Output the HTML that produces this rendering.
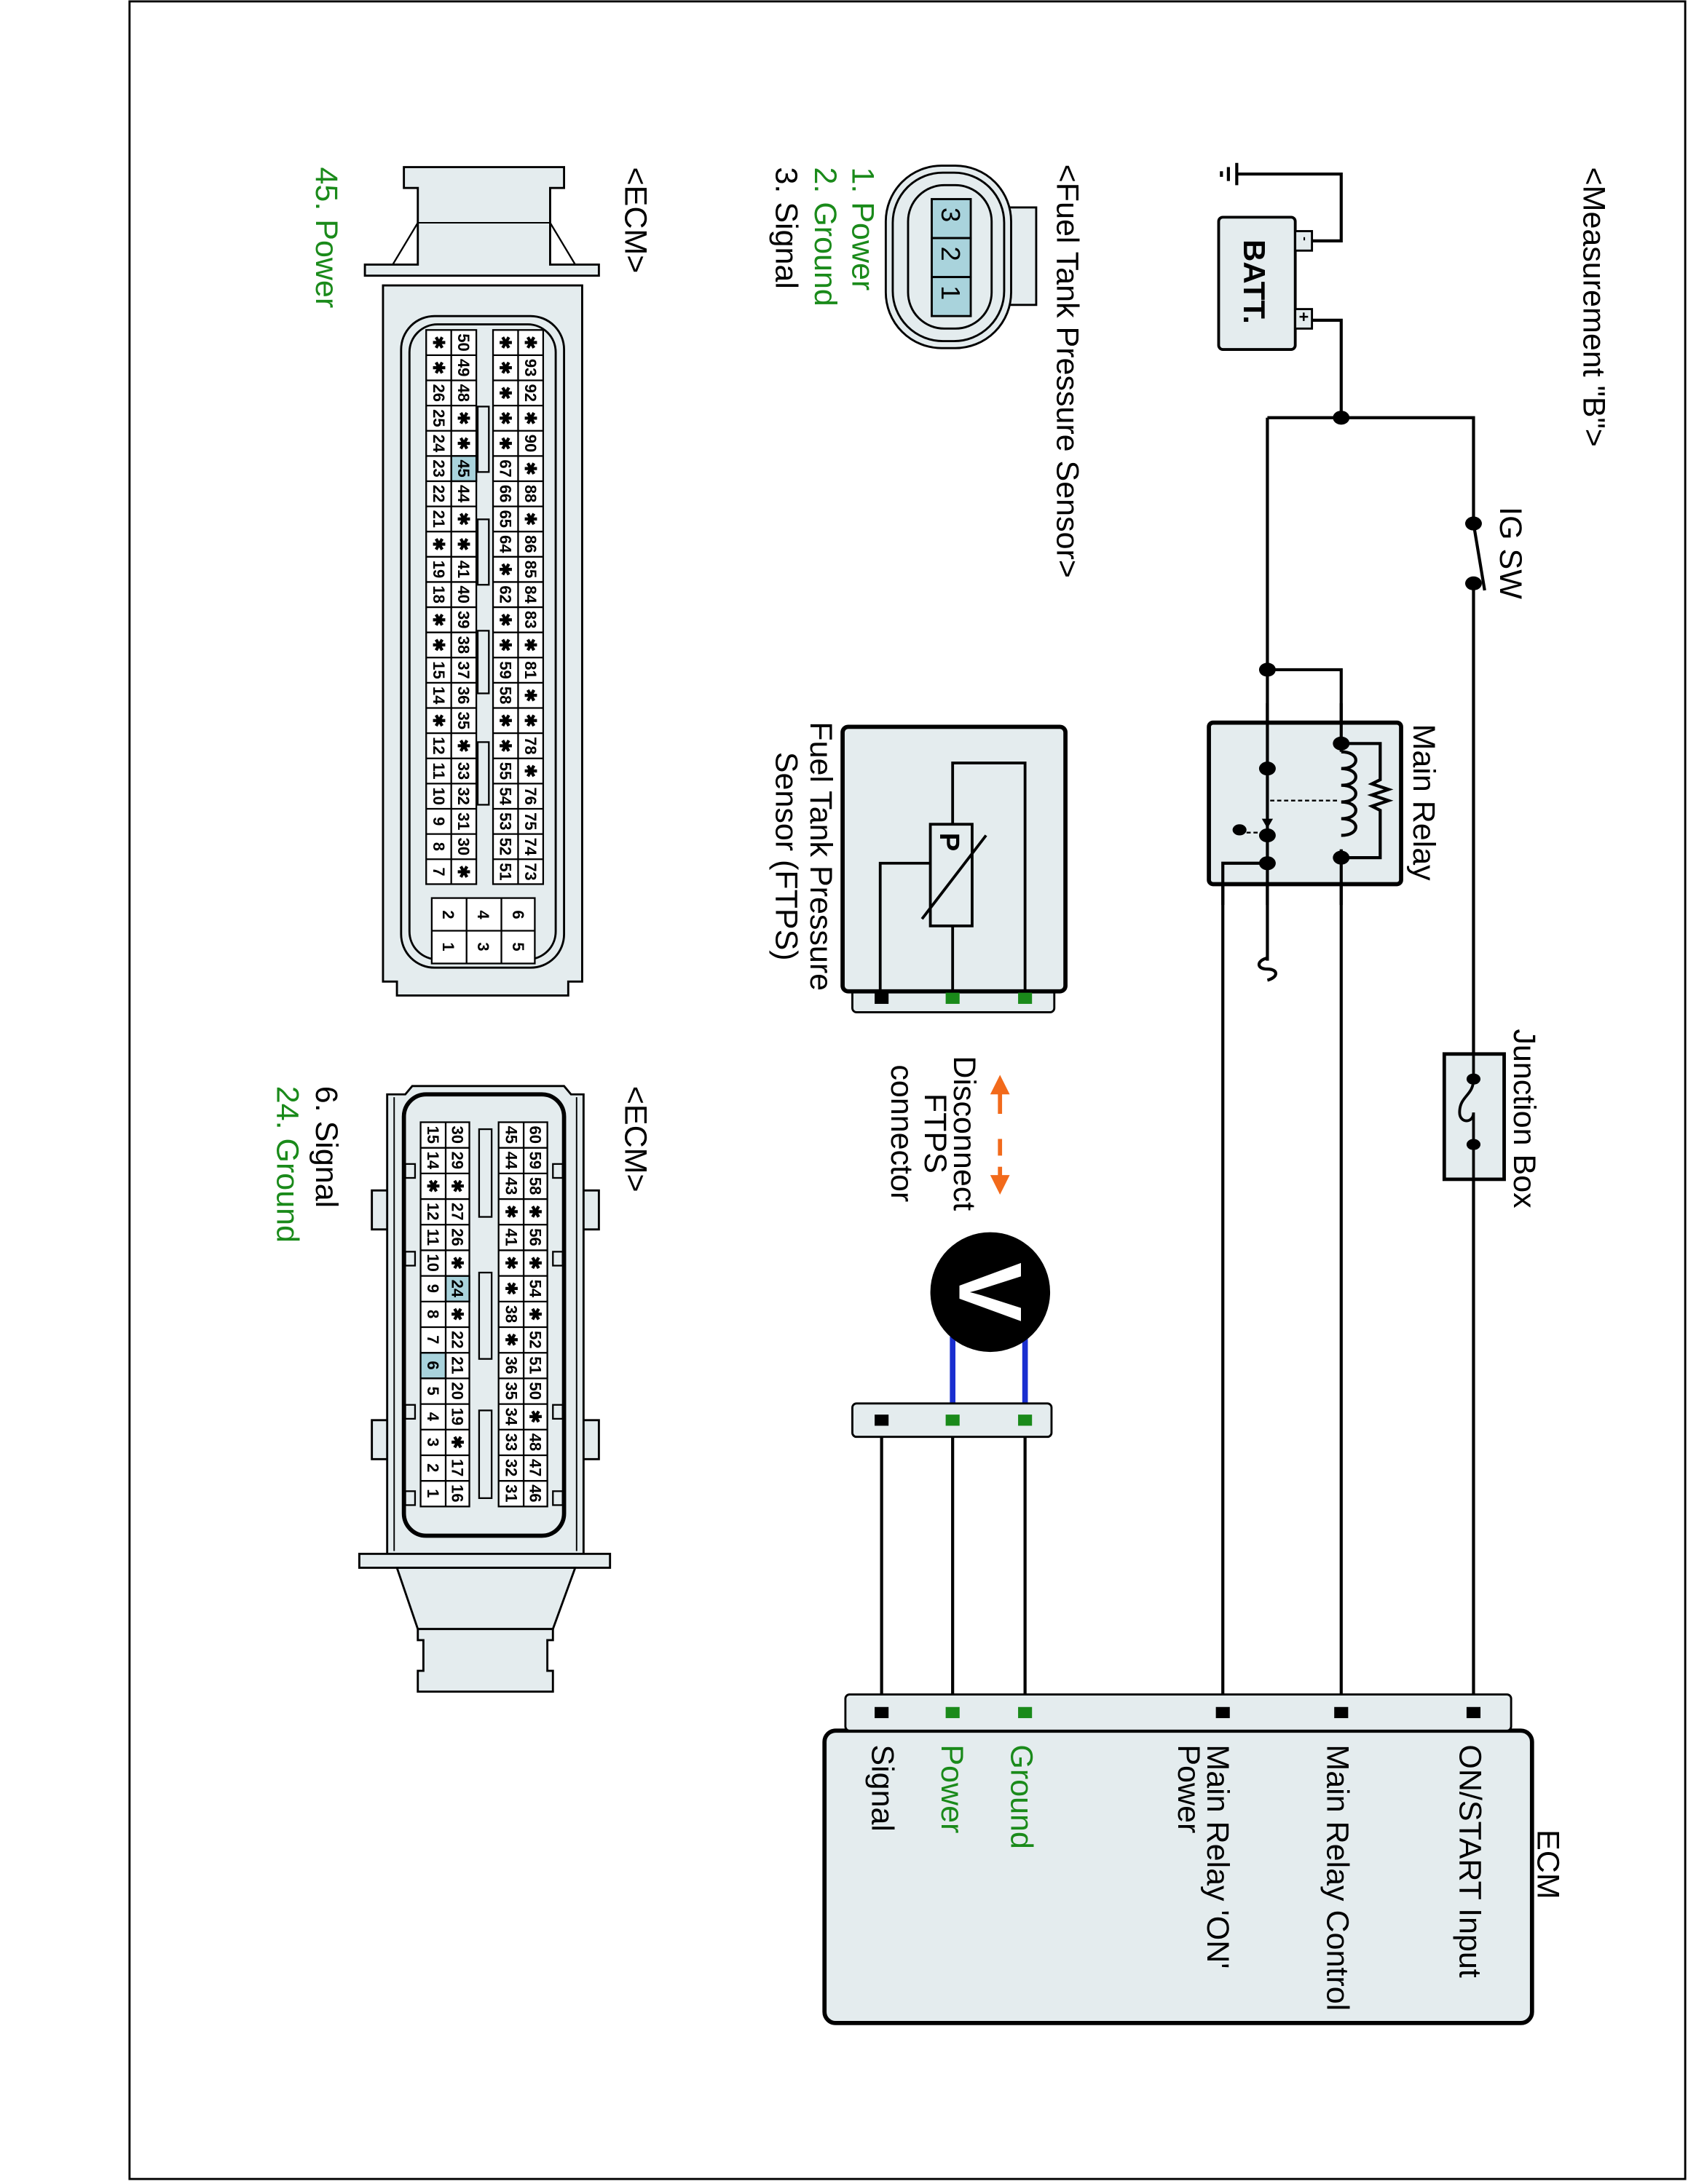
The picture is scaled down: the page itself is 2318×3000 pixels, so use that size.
<!DOCTYPE html>
<html><head><meta charset="utf-8"><style>
html,body{margin:0;padding:0;background:#fff}
svg{display:block}
text{font-family:"Liberation Sans",Arial,sans-serif}
</style></head><body>
<svg width="2318" height="3000" viewBox="0 0 1212 1568.6" preserveAspectRatio="none" xmlns="http://www.w3.org/2000/svg">
<rect x="0" y="0" width="1212" height="1568.6" fill="#fff"/>
<rect x="93" y="1" width="1117" height="1564" fill="none" stroke="#000" stroke-width="1.5"/>

<g fill="none" stroke="#000" stroke-width="2.2">
<polyline points="888,125 963,125 963,173 942,173"/>
<line x1="888" y1="117" x2="888" y2="133"/>
<line x1="882" y1="120" x2="882" y2="130"/>
<line x1="877" y1="123" x2="877" y2="127"/>
<polyline points="942,230 963,230 963,300"/>
<polyline points="910,300 1058,300 1058,376"/>
<line x1="1058" y1="419" x2="1058" y2="1226"/>
<line x1="1058" y1="376" x2="1066" y2="424"/>
<line x1="910" y1="300" x2="910" y2="690"/>
<polyline points="910,481 963,481 963,534"/>
<line x1="963" y1="616" x2="963" y2="1226"/>
<polyline points="910,620 878,620 878,1226"/>
<path d="M910,688 c-8,2 -8,8 0,8 c8,0 8,6 0,8" />
<line x1="633" y1="1020" x2="633" y2="1226"/>
<line x1="684" y1="1020" x2="684" y2="1226"/>
<line x1="736" y1="1020" x2="736" y2="1226"/>
</g>

<rect x="875" y="156" width="55" height="95" rx="3" fill="#e4ecee" stroke="#000" stroke-width="2"/>
<rect x="930" y="166" width="12" height="14" fill="#e4ecee" stroke="#000" stroke-width="1.5"/>
<rect x="930" y="222" width="12" height="14" fill="#e4ecee" stroke="#000" stroke-width="1.5"/>
<text transform="translate(934,170) rotate(90)" font-size="9" font-weight="bold">-</text>
<text transform="translate(932,224) rotate(90)" font-size="12" font-weight="bold">+</text>
<text transform="translate(893,172) rotate(90)" font-size="22" font-weight="bold">BATT.</text>

<g fill="#000">
<ellipse cx="963" cy="300" rx="6" ry="5"/>
<ellipse cx="910" cy="481" rx="6" ry="5"/>
<ellipse cx="1058" cy="376" rx="6" ry="5"/>
<ellipse cx="1058" cy="419" rx="6" ry="5"/>
</g>

<rect x="868" y="519" width="138" height="116" rx="3" fill="#e4ecee" stroke="#000" stroke-width="3"/>
<g fill="none" stroke="#000" stroke-width="2.2">
<line x1="910" y1="505" x2="910" y2="650"/>
<line x1="963" y1="505" x2="963" y2="540"/>
<line x1="963" y1="610" x2="963" y2="650"/>
<polyline points="910,620 878,620 878,650"/>
<polyline points="963,534 991,534 991,560 985,563 997,567 985,571 997,575 985,579 991,582 991,616 963,616"/>
<path d="M963,540 c14,0 14,12 0,12 c14,0 14,12 0,12 c14,0 14,12 0,12 c14,0 14,12 0,12 c14,0 14,12 0,12"/>
</g>
<line x1="912" y1="575" x2="960" y2="575" stroke="#000" stroke-width="1.2" stroke-dasharray="3,2"/>
<line x1="890" y1="598" x2="906" y2="598" stroke="#000" stroke-width="1.2" stroke-dasharray="3,2"/>
<polygon points="906,588 914,588 910,595" fill="#000"/>
<g fill="#000">
<ellipse cx="910" cy="552" rx="6" ry="5"/>
<ellipse cx="910" cy="600" rx="6" ry="5"/>
<ellipse cx="910" cy="620" rx="6" ry="5"/>
<ellipse cx="890" cy="596" rx="5" ry="4"/>
<ellipse cx="963" cy="534" rx="6" ry="5"/>
<ellipse cx="963" cy="616" rx="6" ry="5"/>
</g>

<rect x="1037" y="757" width="43" height="90" fill="#e4ecee" stroke="#000" stroke-width="2.5"/>
<g fill="none" stroke="#000" stroke-width="2"><line x1="1058" y1="750" x2="1058" y2="775"/><line x1="1058" y1="822" x2="1058" y2="855"/>
<path d="M1058,775 c0,12 -10,12 -10,24 0,8 10,8 10,0 0,-0 0,12 0,23" /></g>
<ellipse cx="1058" cy="775" rx="5" ry="4" fill="#000"/>
<ellipse cx="1058" cy="822" rx="5" ry="4" fill="#000"/>

<rect x="592" y="1243" width="508" height="210" rx="8" fill="#e4ecee" stroke="#000" stroke-width="3"/>
<rect x="607" y="1217" width="478" height="26" rx="3" fill="#e4ecee" stroke="#000" stroke-width="1.5"/>
<g>
<rect x="628" y="1226" width="10" height="8" fill="#000"/>
<rect x="679" y="1226" width="10" height="8" fill="#1a8a1a"/>
<rect x="731" y="1226" width="10" height="8" fill="#1a8a1a"/>
<rect x="873" y="1226" width="10" height="8" fill="#000"/>
<rect x="958" y="1226" width="10" height="8" fill="#000"/>
<rect x="1053" y="1226" width="10" height="8" fill="#000"/>
</g>
<g font-size="22.5">
<text transform="translate(1104,1314) rotate(90)">ECM</text>
<text transform="translate(1048,1253) rotate(90)">ON/START Input</text>
<text transform="translate(953,1253) rotate(90)">Main Relay Control</text>
<text transform="translate(867,1253) rotate(90)">Main Relay 'ON'</text>
<text transform="translate(846,1253) rotate(90)">Power</text>
<text transform="translate(726,1253) rotate(90)" fill="#1a8a1a">Ground</text>
<text transform="translate(676,1253) rotate(90)" fill="#1a8a1a">Power</text>
<text transform="translate(626,1253) rotate(90)">Signal</text>
<text transform="translate(1137,120) rotate(90)">&lt;Measurement "B"&gt;</text>
<text transform="translate(1077,364) rotate(90)">IG SW</text>
<text transform="translate(1015,520) rotate(90)">Main Relay</text>
<text transform="translate(1087,739) rotate(90)">Junction Box</text>
<text transform="translate(759,118) rotate(90)">&lt;Fuel Tank Pressure Sensor&gt;</text>
<text transform="translate(612,120) rotate(90)" fill="#1a8a1a">1. Power</text>
<text transform="translate(585,120) rotate(90)" fill="#1a8a1a">2. Ground</text>
<text transform="translate(557,120) rotate(90)">3. Signal</text>
<text transform="translate(449,120) rotate(90)">&lt;ECM&gt;</text>
<text transform="translate(227,120) rotate(90)" fill="#1a8a1a">45. Power</text>
<text transform="translate(449,780) rotate(90)">&lt;ECM&gt;</text>
<text transform="translate(227,780) rotate(90)">6. Signal</text>
<text transform="translate(199,780) rotate(90)" fill="#1a8a1a">24. Ground</text>
<text transform="translate(582,615) rotate(90)" text-anchor="middle">Fuel Tank Pressure</text>
<text transform="translate(557,615) rotate(90)" text-anchor="middle">Sensor (FTPS)</text>
<text transform="translate(685,814) rotate(90)" text-anchor="middle">Disconnect</text>
<text transform="translate(664,814) rotate(90)" text-anchor="middle">FTPS</text>
<text transform="translate(640,814) rotate(90)" text-anchor="middle">connector</text>
</g>

<rect x="612" y="700" width="145" height="27" rx="3" fill="#e4ecee" stroke="#000" stroke-width="1.5"/>
<rect x="605" y="522" width="160" height="190" rx="4" fill="#e4ecee" stroke="#000" stroke-width="3"/>
<g fill="none" stroke="#000" stroke-width="2">
<polyline points="736,712 736,548 684,548 684,592"/>
<line x1="684" y1="665" x2="684" y2="712"/>
<polyline points="668,620 632,620 632,712"/>
<rect x="668" y="592" width="30" height="73" fill="#e4ecee"/>
<line x1="662" y1="660" x2="708" y2="600"/>
</g>
<text transform="translate(675,598) rotate(90)" font-size="20" font-weight="bold">P</text>
<rect x="628" y="713" width="10" height="8" fill="#000"/>
<rect x="679" y="713" width="10" height="8" fill="#1a8a1a"/>
<rect x="731" y="713" width="10" height="8" fill="#1a8a1a"/>

<g stroke="#f26a1b" stroke-width="3" fill="#f26a1b">
<line x1="718" y1="785" x2="718" y2="800"/>
<line x1="718" y1="818" x2="718" y2="830"/>
<polygon points="711,786 725,786 718,772" stroke="none"/>
<polygon points="711,844 725,844 718,858" stroke="none"/>
<line x1="718" y1="838" x2="718" y2="845"/>
</g>

<line x1="684" y1="960" x2="684" y2="1020" stroke="#1a2fd0" stroke-width="4"/>
<line x1="736" y1="960" x2="736" y2="1020" stroke="#1a2fd0" stroke-width="4"/>
<circle cx="711" cy="928" r="43" fill="#000"/>
<text transform="translate(689,928) rotate(90)" font-size="64" font-weight="bold" fill="#fff" text-anchor="middle">V</text>
<rect x="612" y="1008" width="143" height="24" rx="3" fill="#e4ecee" stroke="#000" stroke-width="1.5"/>
<rect x="628" y="1016" width="10" height="8" fill="#000"/>
<rect x="679" y="1016" width="10" height="8" fill="#1a8a1a"/>
<rect x="731" y="1016" width="10" height="8" fill="#1a8a1a"/>

<path d="M724,149 L744,149 L744,219 L724,219" fill="#e4ecee" stroke="#000" stroke-width="1.5"/>
<rect x="636" y="119" width="90" height="131" rx="40" fill="#e4ecee" stroke="#000" stroke-width="1.5"/>
<rect x="641" y="124" width="80" height="121" rx="36" fill="none" stroke="#000" stroke-width="1.5"/>
<rect x="652" y="133" width="60" height="103" rx="26" fill="none" stroke="#000" stroke-width="1.5"/>
<g stroke="#000" stroke-width="1.5" fill="#a9d3dc">
<rect x="669" y="143" width="28" height="28"/><rect x="669" y="171" width="28" height="28"/><rect x="669" y="199" width="28" height="28"/>
</g>
<g font-size="19">
<text transform="translate(676,149) rotate(90)">3</text>
<text transform="translate(676,177) rotate(90)">2</text>
<text transform="translate(676,205) rotate(90)">1</text>
</g>

<path d="M290,120 L405,120 L405,135 L395,135 L395,190 L430,190 L430,198 L262,198 L262,190 L300,190 L300,135 L290,135 Z" fill="#e4ecee" stroke="#000" stroke-width="1.5"/>
<line x1="300" y1="160" x2="395" y2="160" stroke="#000" stroke-width="1"/>
<path d="M300,160 L282,190 M395,160 L413,190" stroke="#000" stroke-width="1.2"/>
<path d="M275,205 L418,205 L418,705 L408,705 L408,715 L285,715 L285,705 L275,705 Z" fill="#e4ecee" stroke="#000" stroke-width="1.5"/>
<rect x="288" y="227" width="117" height="468" rx="24" fill="none" stroke="#000" stroke-width="1.5"/>
<rect x="294" y="233" width="105" height="456" rx="20" fill="none" stroke="#000" stroke-width="1.5"/>
<g stroke="#000" stroke-width="1.2" fill="#fff">
<rect x="306" y="237" width="36" height="398"/>
<rect x="354" y="237" width="36" height="398"/>
<rect x="343" y="292" width="8" height="47" fill="#e4ecee"/>
<rect x="343" y="373" width="8" height="47" fill="#e4ecee"/>
<rect x="343" y="453" width="8" height="45" fill="#e4ecee"/>
<rect x="343" y="533" width="8" height="45" fill="#e4ecee"/>
<rect x="324" y="327.5" width="18" height="18.1" fill="#a9d3dc"/>
</g>
<g stroke="#000" stroke-width="1.2">
<line x1="324" y1="237" x2="324" y2="635"/><line x1="372" y1="237" x2="372" y2="635"/>
<path d="M306,255.1H342M306,273.2H342M306,291.3H342M306,309.4H342M306,327.5H342M306,345.6H342M306,363.7H342M306,381.8H342M306,399.9H342M306,418H342M306,436.1H342M306,454.2H342M306,472.3H342M306,490.4H342M306,508.5H342M306,526.6H342M306,544.7H342M306,562.8H342M306,580.9H342M306,599H342M306,617.1H342"/>
<path d="M354,255.1H390M354,273.2H390M354,291.3H390M354,309.4H390M354,327.5H390M354,345.6H390M354,363.7H390M354,381.8H390M354,399.9H390M354,418H390M354,436.1H390M354,454.2H390M354,472.3H390M354,490.4H390M354,508.5H390M354,526.6H390M354,544.7H390M354,562.8H390M354,580.9H390M354,599H390M354,617.1H390"/>
</g>
<g font-size="11.5" text-anchor="middle" font-weight="bold">
<text transform="translate(311,246) rotate(90)">✱</text><text transform="translate(311,264.1) rotate(90)">✱</text><text transform="translate(311,282.2) rotate(90)">26</text><text transform="translate(311,300.3) rotate(90)">25</text><text transform="translate(311,318.4) rotate(90)">24</text><text transform="translate(311,336.5) rotate(90)">23</text><text transform="translate(311,354.6) rotate(90)">22</text><text transform="translate(311,372.7) rotate(90)">21</text><text transform="translate(311,390.8) rotate(90)">✱</text><text transform="translate(311,408.9) rotate(90)">19</text><text transform="translate(311,427) rotate(90)">18</text><text transform="translate(311,445.1) rotate(90)">✱</text><text transform="translate(311,463.2) rotate(90)">✱</text><text transform="translate(311,481.3) rotate(90)">15</text><text transform="translate(311,499.4) rotate(90)">14</text><text transform="translate(311,517.5) rotate(90)">✱</text><text transform="translate(311,535.6) rotate(90)">12</text><text transform="translate(311,553.7) rotate(90)">11</text><text transform="translate(311,571.8) rotate(90)">10</text><text transform="translate(311,589.9) rotate(90)">9</text><text transform="translate(311,608) rotate(90)">8</text><text transform="translate(311,626.1) rotate(90)">7</text>
<text transform="translate(329,246) rotate(90)">50</text><text transform="translate(329,264.1) rotate(90)">49</text><text transform="translate(329,282.2) rotate(90)">48</text><text transform="translate(329,300.3) rotate(90)">✱</text><text transform="translate(329,318.4) rotate(90)">✱</text><text transform="translate(329,336.5) rotate(90)">45</text><text transform="translate(329,354.6) rotate(90)">44</text><text transform="translate(329,372.7) rotate(90)">✱</text><text transform="translate(329,390.8) rotate(90)">✱</text><text transform="translate(329,408.9) rotate(90)">41</text><text transform="translate(329,427) rotate(90)">40</text><text transform="translate(329,445.1) rotate(90)">39</text><text transform="translate(329,463.2) rotate(90)">38</text><text transform="translate(329,481.3) rotate(90)">37</text><text transform="translate(329,499.4) rotate(90)">36</text><text transform="translate(329,517.5) rotate(90)">35</text><text transform="translate(329,535.6) rotate(90)">✱</text><text transform="translate(329,553.7) rotate(90)">33</text><text transform="translate(329,571.8) rotate(90)">32</text><text transform="translate(329,589.9) rotate(90)">31</text><text transform="translate(329,608) rotate(90)">30</text><text transform="translate(329,626.1) rotate(90)">✱</text>
<text transform="translate(359,246) rotate(90)">✱</text><text transform="translate(359,264.1) rotate(90)">✱</text><text transform="translate(359,282.2) rotate(90)">✱</text><text transform="translate(359,300.3) rotate(90)">✱</text><text transform="translate(359,318.4) rotate(90)">✱</text><text transform="translate(359,336.5) rotate(90)">67</text><text transform="translate(359,354.6) rotate(90)">66</text><text transform="translate(359,372.7) rotate(90)">65</text><text transform="translate(359,390.8) rotate(90)">64</text><text transform="translate(359,408.9) rotate(90)">✱</text><text transform="translate(359,427) rotate(90)">62</text><text transform="translate(359,445.1) rotate(90)">✱</text><text transform="translate(359,463.2) rotate(90)">✱</text><text transform="translate(359,481.3) rotate(90)">59</text><text transform="translate(359,499.4) rotate(90)">58</text><text transform="translate(359,517.5) rotate(90)">✱</text><text transform="translate(359,535.6) rotate(90)">✱</text><text transform="translate(359,553.7) rotate(90)">55</text><text transform="translate(359,571.8) rotate(90)">54</text><text transform="translate(359,589.9) rotate(90)">53</text><text transform="translate(359,608) rotate(90)">52</text><text transform="translate(359,626.1) rotate(90)">51</text>
<text transform="translate(377,246) rotate(90)">✱</text><text transform="translate(377,264.1) rotate(90)">93</text><text transform="translate(377,282.2) rotate(90)">92</text><text transform="translate(377,300.3) rotate(90)">✱</text><text transform="translate(377,318.4) rotate(90)">90</text><text transform="translate(377,336.5) rotate(90)">✱</text><text transform="translate(377,354.6) rotate(90)">88</text><text transform="translate(377,372.7) rotate(90)">✱</text><text transform="translate(377,390.8) rotate(90)">86</text><text transform="translate(377,408.9) rotate(90)">85</text><text transform="translate(377,427) rotate(90)">84</text><text transform="translate(377,445.1) rotate(90)">83</text><text transform="translate(377,463.2) rotate(90)">✱</text><text transform="translate(377,481.3) rotate(90)">81</text><text transform="translate(377,499.4) rotate(90)">✱</text><text transform="translate(377,517.5) rotate(90)">✱</text><text transform="translate(377,535.6) rotate(90)">78</text><text transform="translate(377,553.7) rotate(90)">✱</text><text transform="translate(377,571.8) rotate(90)">76</text><text transform="translate(377,589.9) rotate(90)">75</text><text transform="translate(377,608) rotate(90)">74</text><text transform="translate(377,626.1) rotate(90)">73</text>
</g>
<rect x="310" y="645" width="74" height="47" fill="#fff" stroke="#000" stroke-width="1.2"/>
<path d="M335,645V692M360,645V692M310,668.5H384" stroke="#000" stroke-width="1.2"/>
<g font-size="11.5" text-anchor="middle" font-weight="bold">
<text transform="translate(318,657) rotate(90)">2</text><text transform="translate(318,680) rotate(90)">1</text>
<text transform="translate(343,657) rotate(90)">4</text><text transform="translate(343,680) rotate(90)">3</text>
<text transform="translate(368,657) rotate(90)">6</text><text transform="translate(368,680) rotate(90)">5</text>
</g>

<rect x="267" y="855" width="14" height="28" fill="#e4ecee" stroke="#000" stroke-width="1.5"/>
<rect x="267" y="1020" width="14" height="28" fill="#e4ecee" stroke="#000" stroke-width="1.5"/>
<rect x="416" y="855" width="14" height="28" fill="#e4ecee" stroke="#000" stroke-width="1.5"/>
<rect x="416" y="1020" width="14" height="28" fill="#e4ecee" stroke="#000" stroke-width="1.5"/>
<path d="M278,786 L291,786 L296,780 L405,780 L410,786 L419,786 L419,1116 L278,1116 Z" fill="#e4ecee" stroke="#000" stroke-width="1.5"/>
<line x1="283" y1="788" x2="283" y2="1114" stroke="#000" stroke-width="1"/>
<line x1="414" y1="788" x2="414" y2="1114" stroke="#000" stroke-width="1"/>
<rect x="290" y="786" width="115" height="317" rx="16" fill="none" stroke="#000" stroke-width="3"/>
<g fill="#e4ecee" stroke="#000" stroke-width="1.2">
<rect x="291" y="836" width="7" height="10"/><rect x="291" y="899" width="7" height="10"/><rect x="291" y="1009" width="7" height="10"/><rect x="291" y="1071" width="7" height="10"/>
<rect x="397" y="836" width="7" height="10"/><rect x="397" y="899" width="7" height="10"/><rect x="397" y="1009" width="7" height="10"/><rect x="397" y="1071" width="7" height="10"/>
</g>
<rect x="258" y="1116" width="180" height="10" fill="#e4ecee" stroke="#000" stroke-width="1.5"/>
<path d="M285,1126 L300,1170 L397,1170 L413,1126 Z" fill="#e4ecee" stroke="#000" stroke-width="1.5"/>
<path d="M300,1170 L300,1178 L304,1178 L304,1200 L300,1200 L300,1215 L397,1215 L397,1200 L393,1200 L393,1178 L397,1178 L397,1170 Z" fill="#e4ecee" stroke="#000" stroke-width="1.5"/>
<g stroke="#000" stroke-width="1.2" fill="#fff">
<rect x="302" y="806" width="35" height="276"/>
<rect x="358" y="806" width="35" height="276"/>
<rect x="320" y="916.4" width="17" height="18.4" fill="#a9d3dc"/>
<rect x="302" y="971.6" width="18" height="18.4" fill="#a9d3dc"/>
<rect x="344" y="811" width="9" height="63" fill="#e4ecee"/>
<rect x="344" y="914" width="9" height="62" fill="#e4ecee"/>
<rect x="344" y="1013" width="9" height="63" fill="#e4ecee"/>
</g>
<g stroke="#000" stroke-width="1.2">
<line x1="320" y1="806" x2="320" y2="1082"/><line x1="376" y1="806" x2="376" y2="1082"/>
<path d="M302,824.4H337M302,842.8H337M302,861.2H337M302,879.6H337M302,898H337M302,916.4H337M302,934.8H337M302,953.2H337M302,971.6H337M302,990H337M302,1008.4H337M302,1026.8H337M302,1045.2H337M302,1063.6H337"/>
<path d="M358,824.4H393M358,842.8H393M358,861.2H393M358,879.6H393M358,898H393M358,916.4H393M358,934.8H393M358,953.2H393M358,971.6H393M358,990H393M358,1008.4H393M358,1026.8H393M358,1045.2H393M358,1063.6H393"/>
</g>
<g font-size="11.5" text-anchor="middle" font-weight="bold">
<text transform="translate(307,815) rotate(90)">15</text><text transform="translate(307,833.4) rotate(90)">14</text><text transform="translate(307,851.8) rotate(90)">✱</text><text transform="translate(307,870.2) rotate(90)">12</text><text transform="translate(307,888.6) rotate(90)">11</text><text transform="translate(307,907) rotate(90)">10</text><text transform="translate(307,925.4) rotate(90)">9</text><text transform="translate(307,943.8) rotate(90)">8</text><text transform="translate(307,962.2) rotate(90)">7</text><text transform="translate(307,980.6) rotate(90)">6</text><text transform="translate(307,999) rotate(90)">5</text><text transform="translate(307,1017.4) rotate(90)">4</text><text transform="translate(307,1035.8) rotate(90)">3</text><text transform="translate(307,1054.2) rotate(90)">2</text><text transform="translate(307,1072.6) rotate(90)">1</text>
<text transform="translate(324.5,815) rotate(90)">30</text><text transform="translate(324.5,833.4) rotate(90)">29</text><text transform="translate(324.5,851.8) rotate(90)">✱</text><text transform="translate(324.5,870.2) rotate(90)">27</text><text transform="translate(324.5,888.6) rotate(90)">26</text><text transform="translate(324.5,907) rotate(90)">✱</text><text transform="translate(324.5,925.4) rotate(90)">24</text><text transform="translate(324.5,943.8) rotate(90)">✱</text><text transform="translate(324.5,962.2) rotate(90)">22</text><text transform="translate(324.5,980.6) rotate(90)">21</text><text transform="translate(324.5,999) rotate(90)">20</text><text transform="translate(324.5,1017.4) rotate(90)">19</text><text transform="translate(324.5,1035.8) rotate(90)">✱</text><text transform="translate(324.5,1054.2) rotate(90)">17</text><text transform="translate(324.5,1072.6) rotate(90)">16</text>
<text transform="translate(363,815) rotate(90)">45</text><text transform="translate(363,833.4) rotate(90)">44</text><text transform="translate(363,851.8) rotate(90)">43</text><text transform="translate(363,870.2) rotate(90)">✱</text><text transform="translate(363,888.6) rotate(90)">41</text><text transform="translate(363,907) rotate(90)">✱</text><text transform="translate(363,925.4) rotate(90)">✱</text><text transform="translate(363,943.8) rotate(90)">38</text><text transform="translate(363,962.2) rotate(90)">✱</text><text transform="translate(363,980.6) rotate(90)">36</text><text transform="translate(363,999) rotate(90)">35</text><text transform="translate(363,1017.4) rotate(90)">34</text><text transform="translate(363,1035.8) rotate(90)">33</text><text transform="translate(363,1054.2) rotate(90)">32</text><text transform="translate(363,1072.6) rotate(90)">31</text>
<text transform="translate(380.5,815) rotate(90)">60</text><text transform="translate(380.5,833.4) rotate(90)">59</text><text transform="translate(380.5,851.8) rotate(90)">58</text><text transform="translate(380.5,870.2) rotate(90)">✱</text><text transform="translate(380.5,888.6) rotate(90)">56</text><text transform="translate(380.5,907) rotate(90)">✱</text><text transform="translate(380.5,925.4) rotate(90)">54</text><text transform="translate(380.5,943.8) rotate(90)">✱</text><text transform="translate(380.5,962.2) rotate(90)">52</text><text transform="translate(380.5,980.6) rotate(90)">51</text><text transform="translate(380.5,999) rotate(90)">50</text><text transform="translate(380.5,1017.4) rotate(90)">✱</text><text transform="translate(380.5,1035.8) rotate(90)">48</text><text transform="translate(380.5,1054.2) rotate(90)">47</text><text transform="translate(380.5,1072.6) rotate(90)">46</text>
</g>
</svg>
</body></html>
